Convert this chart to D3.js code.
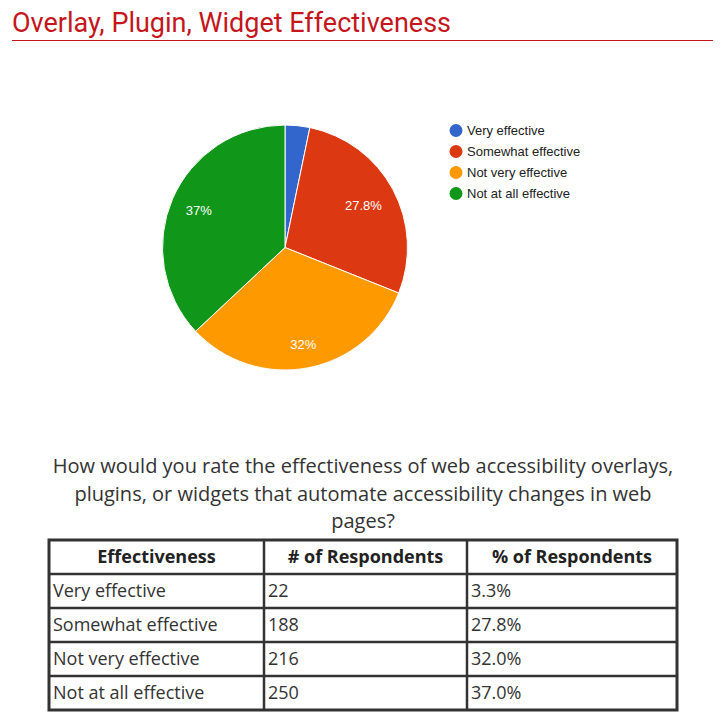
<!DOCTYPE html>
<html><head><meta charset="utf-8">
<script src="https://cdn.jsdelivr.net/npm/d3@7"></script>
<style>body{margin:0;background:#fff}svg{display:block}</style>
</head><body>
<svg id="c" width="727" height="722"></svg>
<script>
const categories = ["Very effective","Somewhat effective","Not very effective","Not at all effective"];
const respondents = [22,188,216,250];
const percentLabels = ["3.3%","27.8%","32.0%","37.0%"];
const colors = ["#3366cc","#dc3912","#ff9900","#109618"];
const tableHeaders = ["Effectiveness","# of Respondents","% of Respondents"];
const titleText = "Overlay, Plugin, Widget Effectiveness";
const captionLines = ["How would you rate the effectiveness of web accessibility overlays,","plugins, or widgets that automate accessibility changes in web","pages?"];

const svg = d3.select("#c");
const red = "#c4161c";
svg.append("text").attr("x",12).attr("y",32).attr("font-family","Roboto").attr("font-size",27)
  .attr("fill",red).text(titleText);
svg.append("line").attr("x1",12).attr("x2",713).attr("y1",40.5).attr("y2",40.5).attr("stroke",red).attr("stroke-width",1);

// pie
const cx=285, cy=247.5, r=122.5;
const total = d3.sum(respondents);
const pie = d3.pie().sort(null).value(d=>d)(respondents);
const arc = d3.arc().innerRadius(0).outerRadius(r);
const g = svg.append("g").attr("transform",`translate(${cx},${cy})`);
g.selectAll("path").data(pie).join("path").attr("d",arc).attr("fill",(d,i)=>colors[i])
  .attr("stroke","#fff").attr("stroke-width",1);
const fmt = v => { const p = Math.round(v/total*1000)/10; return (p%1===0? p.toFixed(0): p.toFixed(1))+"%"; };
const labels = g.selectAll("text").data(pie.filter(d=>d.data/total>0.05)).join("text")
  .attr("text-anchor","middle").attr("dy","0.35em")
  .attr("font-family","Liberation Sans, Arial").attr("font-size",13).attr("fill","#fff")
  .text(d=>fmt(d.data));
// place each label along its bisector so its box stays inside the slice area
const fitR = r*0.885;
labels.each(function(d){
  const w = this.getComputedTextLength()/2, h = 6.5;
  const a = (d.startAngle+d.endAngle)/2;
  const ux = Math.sin(a), uy = -Math.cos(a);
  const sx = Math.sign(ux)*w, sy = Math.sign(uy)*h;
  // solve |t*u + s| = fitR
  const b = ux*sx+uy*sy, c = sx*sx+sy*sy-fitR*fitR;
  const t = -b + Math.sqrt(b*b - c);
  d3.select(this).attr("transform",`translate(${t*ux},${t*uy})`);
});

// legend
const ly = d3.scalePoint().domain(categories).range([130.5,193.5]);
const lg = svg.append("g");
categories.forEach((c,i)=>{
  lg.append("circle").attr("cx",456).attr("cy",ly(c)).attr("r",6.5).attr("fill",colors[i]);
  lg.append("text").attr("x",467).attr("y",ly(c)).attr("dy","0.35em")
    .attr("font-family","Liberation Sans, Arial").attr("font-size",13).attr("fill","#222").text(c);
});

// caption
captionLines.forEach((t,i)=>{
  svg.append("text").attr("x",363).attr("y",473+i*27.5).attr("text-anchor","middle")
    .attr("font-family","Open Sans").attr("font-size",20).attr("fill","#333").text(t);
});

// table
const colX = [49,264,467,677];
const rowY = d3.scaleLinear().domain([0,5]).range([540,710]);
const tg = svg.append("g");
const rows = categories.map((c,i)=>[c,String(respondents[i]),percentLabels[i]]);
tableHeaders.forEach((h,j)=>{
  tg.append("text").attr("x",(colX[j]+colX[j+1])/2).attr("y",(rowY(0)+rowY(1))/2).attr("dy","0.36em")
    .attr("text-anchor","middle").attr("font-family","Open Sans").attr("font-weight","bold")
    .attr("font-size",18).attr("fill","#222").text(h);
});
rows.forEach((row,i)=>{
  row.forEach((v,j)=>{
    tg.append("text").attr("x",colX[j]+4).attr("y",(rowY(i+1)+rowY(i+2))/2).attr("dy","0.36em")
      .attr("font-family","Open Sans").attr("font-size",18).attr("fill","#333").text(v);
  });
});
for(let k=1;k<5;k++) tg.append("line").attr("x1",colX[0]).attr("x2",colX[3]).attr("y1",rowY(k)).attr("y2",rowY(k)).attr("stroke","#333").attr("stroke-width",2.5);
for(let j=1;j<3;j++) tg.append("line").attr("x1",colX[j]).attr("x2",colX[j]).attr("y1",rowY(0)).attr("y2",rowY(5)).attr("stroke","#333").attr("stroke-width",2.5);
tg.append("rect").attr("x",colX[0]).attr("y",rowY(0)).attr("width",colX[3]-colX[0]).attr("height",rowY(5)-rowY(0))
  .attr("fill","none").attr("stroke","#333").attr("stroke-width",3);
</script>
</body></html>
